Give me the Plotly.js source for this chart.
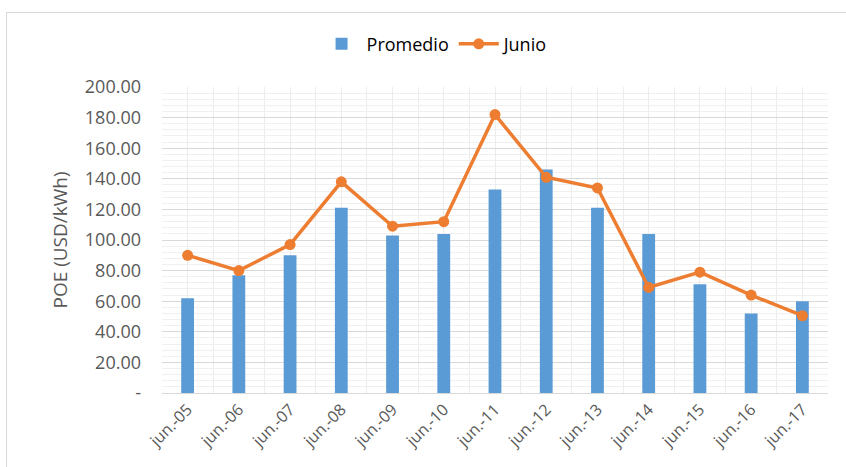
<!DOCTYPE html>
<html>
<head>
<meta charset="utf-8">
<script src="https://cdn.plot.ly/plotly-3.0.1.min.js"></script>
<style>
html,body{margin:0;padding:0;background:#fff;}
#chart{width:846px;height:467px;}
#frame{position:absolute;left:6px;top:12px;width:846px;height:460px;border:1px solid #d9d9d9;box-sizing:border-box;pointer-events:none;}
</style>
</head>
<body>
<div id="chart"></div>
<div id="frame"></div>
<script>
const categories = ["jun.-05","jun.-06","jun.-07","jun.-08","jun.-09","jun.-10","jun.-11","jun.-12","jun.-13","jun.-14","jun.-15","jun.-16","jun.-17"];
const promedio = [62, 77, 90, 121, 103, 104, 133, 146, 121, 104, 71, 52, 60];
const junio = [90, 80, 97, 138, 109, 112, 182, 141, 134, 69, 79, 64, 50.5];
const yTickVals = [0, 20, 40, 60, 80, 100, 120, 140, 160, 180, 200];
const yTickText = ["-", "20.00", "40.00", "60.00", "80.00", "100.00", "120.00", "140.00", "160.00", "180.00", "200.00"];

const xIdx = categories.map((c, i) => i);
const font = "Open Sans, Liberation Sans, sans-serif";

const traces = [
  {
    type: "bar", name: "Promedio", x: xIdx, y: promedio,
    marker: {color: "#5B9BD5"}, width: 0.25
  },
  {
    type: "scatter", mode: "lines+markers", name: "Junio", x: xIdx, y: junio,
    line: {color: "#ED7D31", width: 3.5},
    marker: {color: "#ED7D31", size: 11}
  }
];

const layout = {
  width: 846, height: 467,
  margin: {l: 162, r: 18, t: 87, b: 74, autoexpand: false},
  paper_bgcolor: "#fff", plot_bgcolor: "#fff",
  font: {family: font, color: "#595959"},
  showlegend: true,
  legend: {orientation: "h", x: 0.41, xanchor: "center", y: 1.14, yanchor: "middle",
           font: {size: 18, color: "#000", family: font}, traceorder: "normal", itemwidth: 40},
  xaxis: {
    range: [-0.5, 12.5], tickvals: xIdx, ticktext: categories,
    tickangle: -45, tickfont: {size: 16, color: "#595959"},
    showgrid: true, gridcolor: "#ececec", gridwidth: 1,
    minor: {dtick: 0.5, tick0: -0.5, showgrid: true, gridcolor: "#ececec", gridwidth: 1},
    showline: true, linecolor: "#d9d9d9", linewidth: 1,
    zeroline: false, ticks: "", fixedrange: true, automargin: false
  },
  yaxis: {
    range: [0, 200], tickvals: yTickVals, ticktext: yTickText,
    tickfont: {size: 18, color: "#595959"},
    showgrid: true, gridcolor: "#d9d9d9", gridwidth: 1,
    minor: {dtick: 4, tick0: 0, showgrid: true, gridcolor: "#f0f0f0", gridwidth: 1},
    zeroline: false, showline: false, ticks: "",
    ticklabelstandoff: 20, automargin: false,
    title: {text: "POE (USD/kWh)", font: {size: 19, color: "#595959"}, standoff: 12}
  },
  bargap: 0.75
};

Plotly.newPlot("chart", traces, layout, {displayModeBar: false, staticPlot: true});
</script>
</body>
</html>
